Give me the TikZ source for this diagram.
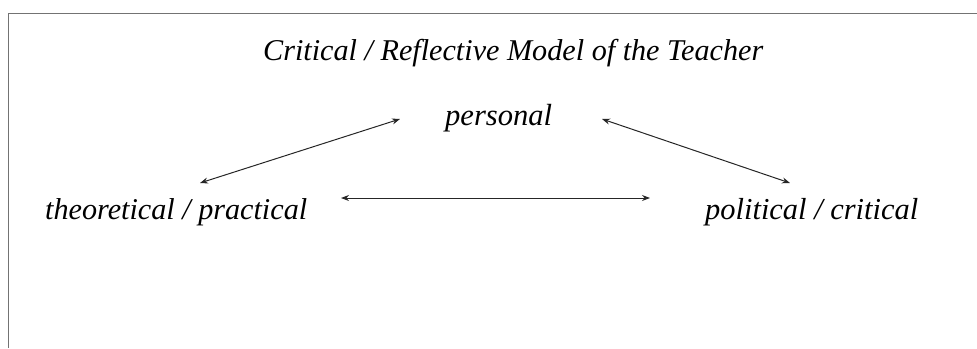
\documentclass[tikz,border=0pt]{standalone}
\usepackage{fontspec}
\usepackage{graphicx}
\setmainfont{Liberation Serif}
\usetikzlibrary{arrows.meta}
\tikzset{
  lbl/.style={font=\itshape\fontsize{30}{34}\selectfont, inner sep=0pt, anchor=base west},
  link/.style={{Stealth[length=8pt,width=6pt]}-{Stealth[length=8pt,width=6pt]}, line width=1pt, black!85},
  frameline/.style={line width=0.8pt, black!55}
}
\begin{document}
\begin{tikzpicture}[x=1pt,y=-1pt]
  \useasboundingbox (0,0) rectangle (977,348);
  % open frame: left and top edges only
  \draw[frameline] (8,348) -- (8,13) -- (977,13);
  % labels, each set to its printed width
  \node[lbl] (title) at (263,60) {\resizebox{500pt}{!}{Critical / Reflective Model of the Teacher}};
  \node[lbl] (pers) at (445,125) {\resizebox{107pt}{!}{personal}};
  \node[lbl] (theo) at (45,219) {\resizebox{262pt}{!}{theoretical / practical}};
  \node[lbl] (poli) at (705,219) {\resizebox{213pt}{!}{political / critical}};
  % arrow end points beside the labels
  \coordinate (tl) at (200,183);
  \coordinate (tr) at (400,119);
  \coordinate (rl) at (602,119);
  \coordinate (rr) at (790,183);
  \coordinate (hl) at (341,198);
  \coordinate (hr) at (650,198);
  \draw[link] (tl) -- (tr);
  \draw[link] (rl) -- (rr);
  \draw[link] (hl) -- (hr);
\end{tikzpicture}
\end{document}
